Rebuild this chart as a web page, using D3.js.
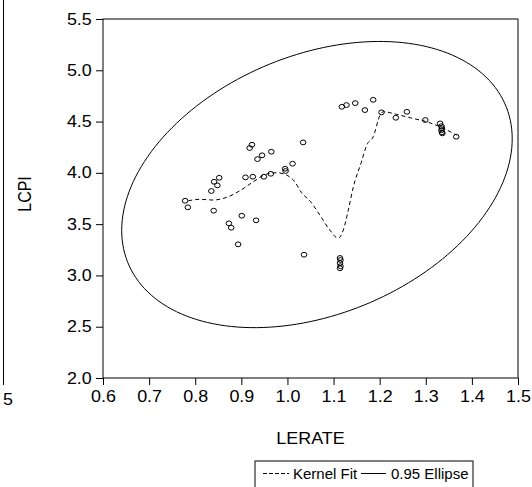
<!DOCTYPE html>
<html>
<head>
<meta charset="utf-8">
<script src="https://cdn.jsdelivr.net/npm/d3@7"></script>
<style>
body { margin: 0; background: #fff; }
svg text { font-family: Arial, "Liberation Sans", sans-serif; fill: #000; }
</style>
</head>
<body>
<script>
/*
LERATE vs LCPI scatter
- kernel fit (dashed)
- 0.95 confidence ellipse
*/

let lerate = [0.778, 0.784, 0.835, 0.841, 0.852, 0.848, 0.840, 0.873, 0.878, 0.901,
              0.893, 0.932, 0.918, 0.923, 0.935, 0.945, 0.965, 0.909, 0.925, 0.949,
              0.964, 0.995, 0.996, 1.011, 1.034, 1.036, 1.114, 1.115, 1.114, 1.115,
              1.114, 1.118, 1.128, 1.147, 1.168, 1.186, 1.204, 1.235, 1.259, 1.299,
              1.331, 1.334, 1.335, 1.334, 1.335, 1.336, 1.366];
let lcpi = [3.728, 3.664, 3.823, 3.913, 3.952, 3.878, 3.631, 3.508, 3.465, 3.582,
            3.303, 3.537, 4.242, 4.274, 4.134, 4.171, 4.206, 3.956, 3.962, 3.962,
            3.991, 4.040, 4.018, 4.089, 4.297, 3.202, 3.170, 3.150, 3.120, 3.090,
            3.070, 4.644, 4.661, 4.680, 4.612, 4.712, 4.590, 4.537, 4.595, 4.515,
            4.482, 4.455, 4.435, 4.415, 4.395, 4.385, 4.352];

let fitX = [0.785, 0.810, 0.839, 0.868, 0.897, 0.926, 0.955, 0.977, 0.998, 1.016,
            1.030, 1.050, 1.070, 1.092, 1.110, 1.121, 1.132, 1.143, 1.160, 1.172,
            1.186, 1.201, 1.208, 1.237, 1.266, 1.302, 1.331, 1.367];
let fitY = [3.728, 3.742, 3.735, 3.761, 3.826, 3.913, 3.988, 4.001, 3.979, 3.913,
            3.810, 3.720, 3.590, 3.442, 3.362, 3.442, 3.637, 3.865, 4.100, 4.271,
            4.352, 4.563, 4.596, 4.570, 4.537, 4.498, 4.449, 4.368];

// ellipse: mean, std devs, correlation, chi2(2) at 0.95
let ellMean = [1.064, 3.886];
let ellSd = [0.173, 0.570];
let ellRho = 0.32;
let ellChi2 = 5.991;

let xTicks = [0.6, 0.7, 0.8, 0.9, 1.0, 1.1, 1.2, 1.3, 1.4, 1.5];
let yTicks = [2.0, 2.5, 3.0, 3.5, 4.0, 4.5, 5.0, 5.5];

let width = 532;
let height = 487;
let stretch = 1.12;

let x = d3.scaleLinear().domain([0.6, 1.5]).range([103, 518]);
let y = d3.scaleLinear().domain([2.0, 5.5]).range([378, 19]);

let svg = d3.select("body")
    .append("svg")
    .attr("width", width)
    .attr("height", height);

// neighbouring panel edge on the left
svg.append("line")
    .attr("x1", 3.5).attr("x2", 3.5)
    .attr("y1", 0).attr("y2", 385)
    .attr("stroke", "#000");
svg.append("text")
    .attr("transform", `translate(3, 405) scale(${stretch},1)`)
    .attr("font-size", 16)
    .text("5");

// axes
let xAxis = d3.axisBottom(x).tickValues(xTicks).tickSize(7).tickPadding(6)
    .tickFormat(d3.format(".1f"));
let yAxis = d3.axisLeft(y).tickValues(yTicks).tickSize(7).tickPadding(4)
    .tickFormat(d3.format(".1f"));

let gx = svg.append("g").attr("transform", "translate(0,378)").call(xAxis);
let gy = svg.append("g").attr("transform", "translate(103,0)").call(yAxis);

[gx, gy].forEach(g => {
    g.select(".domain").remove();
    g.selectAll("line").attr("stroke", "#000");
    g.selectAll("text")
        .attr("font-size", 16)
        .attr("font-family", "Arial, 'Liberation Sans', sans-serif");
});
gx.selectAll("text").attr("transform", `scale(${stretch},1)`);
gy.selectAll("text").attr("transform", `scale(${stretch},1)`).attr("x", -10);

// frame
svg.append("rect")
    .attr("x", x(0.6)).attr("y", y(5.5))
    .attr("width", x(1.5) - x(0.6))
    .attr("height", y(2.0) - y(5.5))
    .attr("fill", "none")
    .attr("stroke", "#000");

// ellipse
let k = Math.sqrt(ellChi2);
let ellPts = d3.range(0, 361, 2).map(a => {
    let t = a * Math.PI / 180;
    let ex = ellMean[0] + k * ellSd[0] * Math.cos(t);
    let ey = ellMean[1] + k * ellSd[1] * (ellRho * Math.cos(t) + Math.sqrt(1 - ellRho * ellRho) * Math.sin(t));
    return [ex, ey];
});
svg.append("path")
    .datum(ellPts)
    .attr("d", d3.line().x(d => x(d[0])).y(d => y(d[1])).curve(d3.curveLinearClosed))
    .attr("fill", "none")
    .attr("stroke", "#000")
    .attr("stroke-width", 1);

// kernel fit
svg.append("path")
    .datum(fitX.map((v, i) => [v, fitY[i]]))
    .attr("d", d3.line().x(d => x(d[0])).y(d => y(d[1])).curve(d3.curveMonotoneX))
    .attr("fill", "none")
    .attr("stroke", "#000")
    .attr("stroke-width", 1)
    .attr("stroke-dasharray", "4,3");

// points
svg.selectAll("ellipse.pt")
    .data(lerate.map((v, i) => [v, lcpi[i]]))
    .enter()
        .append("ellipse")
        .attr("class", "pt")
        .attr("cx", d => x(d[0]))
        .attr("cy", d => y(d[1]))
        .attr("rx", 2.8)
        .attr("ry", 2.4)
        .attr("fill", "none")
        .attr("stroke", "#000")
        .attr("stroke-width", 1);

// axis titles
svg.append("text")
    .attr("transform", `translate(${(x(0.6) + x(1.5)) / 2},444) scale(${stretch},1)`)
    .attr("text-anchor", "middle")
    .attr("font-size", 16)
    .text("LERATE");

svg.append("text")
    .attr("transform", "translate(31,194) rotate(-90) scale(1,1.12)")
    .attr("text-anchor", "middle")
    .attr("font-size", 16)
    .text("LCPI");

// legend
let lg = svg.append("g").attr("transform", "translate(255,461)");
lg.append("rect")
    .attr("x", 0).attr("y", 0)
    .attr("width", 218).attr("height", 40)
    .attr("fill", "#fff")
    .attr("stroke", "#000");
lg.append("line")
    .attr("x1", 8).attr("x2", 34).attr("y1", 12.5).attr("y2", 12.5)
    .attr("stroke", "#000").attr("stroke-dasharray", "4,2");
lg.append("text")
    .attr("x", 38).attr("y", 18)
    .attr("font-size", 15)
    .text("Kernel Fit");
lg.append("line")
    .attr("x1", 106).attr("x2", 131).attr("y1", 12.5).attr("y2", 12.5)
    .attr("stroke", "#000");
lg.append("text")
    .attr("x", 136).attr("y", 18)
    .attr("font-size", 15)
    .text("0.95 Ellipse");
</script>
</body>
</html>
